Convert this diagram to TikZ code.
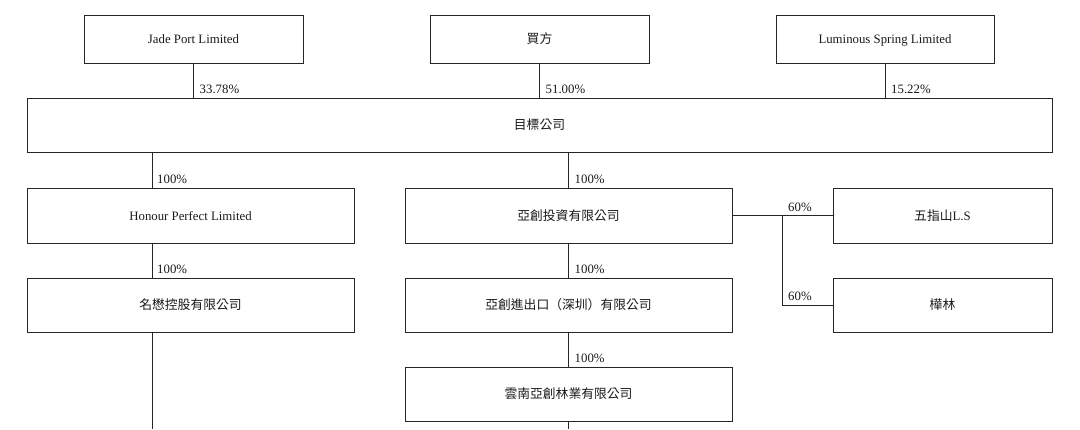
\documentclass[tikz,border=0pt]{standalone}
\usepackage{fontspec}
\setmainfont{Liberation Serif}
\newfontfamily\cjk{Noto Sans CJK TC}
\begin{document}
\begin{tikzpicture}[x=1pt,y=-1pt,
  box/.style={draw=black!85,line width=0.9pt,minimum height=48pt,inner sep=0pt,text height=10.5pt,text depth=1.5pt,font=\fontsize{12.8}{14}\selectfont,text=black!90},
  conn/.style={draw=black!85,line width=0.9pt},
  pct/.style={anchor=south west,inner sep=0pt,font=\fontsize{12.8}{14}\selectfont,text=black!90}]
\useasboundingbox (0,0) rectangle (1080,429);
% top row
\node[box,minimum width=219pt] (jade) at (193.5,39) {Jade Port Limited};
\node[box,minimum width=219pt] (buyer) at (539.5,39) {\cjk 買方};
\node[box,minimum width=218pt] (lum) at (885,39) {Luminous Spring Limited};
% target
\node[box,minimum width=1025pt,minimum height=54pt] (target) at (539.5,125) {\cjk 目標公司};
% second row
\node[box,minimum width=327pt,minimum height=55pt] (honour) at (190.5,215.5) {Honour Perfect Limited};
\node[box,minimum width=327pt,minimum height=55pt] (yc) at (568.5,215.5) {\cjk 亞創投資有限公司};
\node[box,minimum width=219pt,minimum height=55pt] (wzs) at (942.5,215.5) {{\cjk 五指山}L.S};
% third row
\node[box,minimum width=327pt,minimum height=54pt] (mm) at (190.5,305) {\cjk 名懋控股有限公司};
\node[box,minimum width=327pt,minimum height=54pt] (ycx) at (568.5,305) {\cjk 亞創進出口（深圳）有限公司};
\node[box,minimum width=219pt,minimum height=54pt] (hl) at (942.5,305) {\cjk 樺林};
% fourth row
\node[box,minimum width=327pt,minimum height=54pt] (yn) at (568.5,394) {\cjk 雲南亞創林業有限公司};
% free ends
\coordinate (lend) at (152,429);
\coordinate (mend) at (568.5,429);
\coordinate (br) at (782,215.5);
% top connectors
\draw[conn] (jade.south) -- (jade.south |- target.north);
\node[pct] (p1) at ([xshift=6pt,yshift=4pt]jade.south |- target.north) {33.78\%};
\draw[conn] (buyer.south) -- (buyer.south |- target.north);
\node[pct] (p2) at ([xshift=6pt,yshift=4pt]buyer.south |- target.north) {51.00\%};
\draw[conn] (lum.south) -- (lum.south |- target.north);
\node[pct] (p3) at ([xshift=6pt,yshift=4pt]lum.south |- target.north) {15.22\%};
% left column
\draw[conn] (target.south -| lend) -- (honour.north -| lend);
\node[pct] (p4) at ([xshift=5pt,yshift=4pt]honour.north -| lend) {100\%};
\draw[conn] (honour.south -| lend) -- (mm.north -| lend);
\node[pct] (p5) at ([xshift=5pt,yshift=4pt]mm.north -| lend) {100\%};
\draw[conn] (mm.south -| lend) -- (lend);
% middle column
\draw[conn] (target.south -| yc.north) -- (yc.north);
\node[pct] (p6) at ([xshift=6pt,yshift=4pt]yc.north) {100\%};
\draw[conn] (yc.south) -- (ycx.north);
\node[pct] (p7) at ([xshift=6pt,yshift=4pt]ycx.north) {100\%};
\draw[conn] (ycx.south) -- (yn.north);
\node[pct] (p8) at ([xshift=6pt,yshift=4pt]yn.north) {100\%};
\draw[conn] (yn.south) -- (mend);
% right branch
\draw[conn] (yc.east) -- (wzs.west);
\draw[conn] (br) -- (br |- hl.west) -- (hl.west);
\node[pct] (p9) at ([xshift=6pt,yshift=4pt]br) {60\%};
\node[pct] (p10) at ([xshift=6pt,yshift=4pt]br |- hl.west) {60\%};
\end{tikzpicture}
\end{document}
